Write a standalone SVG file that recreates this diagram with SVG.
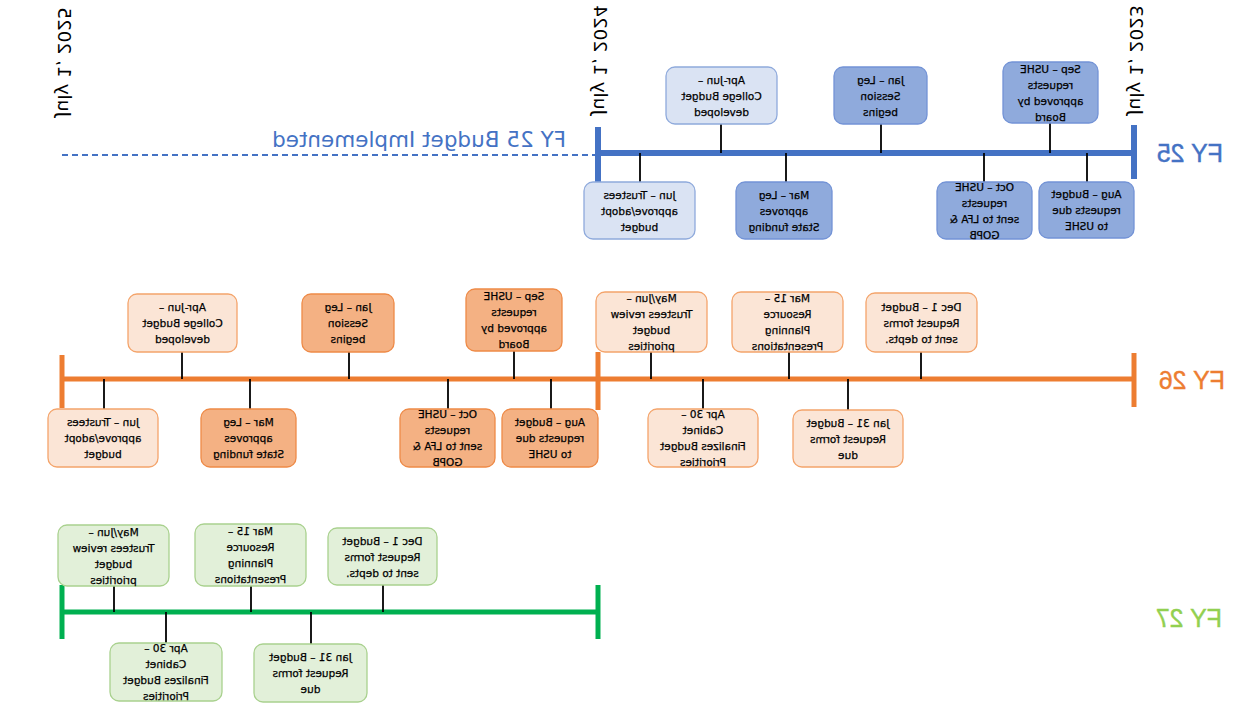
<svg xmlns="http://www.w3.org/2000/svg" width="1250" height="703" viewBox="0 0 1250 703">
<style>
.t{font-family:"DejaVu Sans",sans-serif;font-size:10.5px;fill:#000;stroke:#000;stroke-width:0.25;text-anchor:middle}
.lb{fill:#DAE3F3;stroke:#8FAADC;stroke-width:1.3}
.mb{fill:#8FAADC;stroke:#7393D6;stroke-width:1.3}
.lo{fill:#FBE5D6;stroke:#F4A46B;stroke-width:1.3}
.mo{fill:#F4B183;stroke:#EE8A47;stroke-width:1.3}
.lg{fill:#E2F0D9;stroke:#A9D18E;stroke-width:1.3}
.c{stroke:#000;stroke-width:1.8}
.date{font-family:"DejaVu Sans",sans-serif;font-size:18.5px;fill:#000}
.fy{font-family:"Liberation Sans",sans-serif;font-size:25px;stroke-width:0.4}
</style>
<g transform="matrix(-1 0 0 1 1250 0)">
<g id="axes">
<line x1="652" y1="155" x2="1188" y2="155" stroke="#4472C4" stroke-width="2" stroke-dasharray="6 4"/>
<line x1="115" y1="153" x2="652" y2="153" stroke="#4472C4" stroke-width="6"/>
<line x1="116" y1="125" x2="116" y2="179" stroke="#4472C4" stroke-width="6"/>
<line x1="652" y1="127" x2="652" y2="182" stroke="#4472C4" stroke-width="6"/>
<line x1="115" y1="379" x2="1188" y2="379" stroke="#ED7D31" stroke-width="5"/>
<line x1="116" y1="353" x2="116" y2="407" stroke="#ED7D31" stroke-width="5"/>
<line x1="652" y1="352" x2="652" y2="410" stroke="#ED7D31" stroke-width="5"/>
<line x1="1188" y1="355" x2="1188" y2="408" stroke="#ED7D31" stroke-width="5"/>
<line x1="652" y1="612" x2="1188" y2="612" stroke="#00B050" stroke-width="5"/>
<line x1="652" y1="585" x2="652" y2="639" stroke="#00B050" stroke-width="5"/>
<line x1="1188" y1="585" x2="1188" y2="639" stroke="#00B050" stroke-width="5"/>
</g>
<g id="labels">
<text class="date" transform="translate(1192,117) rotate(-90)">July 1, 2025</text>
<text class="date" transform="translate(656,115) rotate(-90)">July 1, 2024</text>
<text class="date" transform="translate(120,115) rotate(-90)">July 1, 2023</text>
<text x="684" y="147" font-family="DejaVu Sans,sans-serif" font-size="21.5" fill="#4472C4">FY 25 Budget Implemented</text>
<text class="fy" x="27" y="162" fill="#4472C4" stroke="#4472C4">FY 25</text>
<text class="fy" x="25" y="389" fill="#ED7D31" stroke="#ED7D31">FY 26</text>
<text class="fy" x="28" y="627" fill="#92D050" stroke="#92D050">FY 27</text>
</g>
<g id="connectors">
<line class="c" x1="529" y1="124" x2="529" y2="153"/>
<line class="c" x1="369" y1="124" x2="369" y2="153"/>
<line class="c" x1="200" y1="123" x2="200" y2="153"/>
<line class="c" x1="610" y1="153" x2="610" y2="182"/>
<line class="c" x1="464" y1="153" x2="464" y2="182"/>
<line class="c" x1="266" y1="153" x2="266" y2="182"/>
<line class="c" x1="163" y1="153" x2="163" y2="182"/>
<line class="c" x1="1068" y1="352" x2="1068" y2="379"/>
<line class="c" x1="901" y1="352" x2="901" y2="379"/>
<line class="c" x1="736" y1="351" x2="736" y2="379"/>
<line class="c" x1="599" y1="352" x2="599" y2="379"/>
<line class="c" x1="461" y1="352" x2="461" y2="379"/>
<line class="c" x1="329" y1="352" x2="329" y2="379"/>
<line class="c" x1="1146" y1="379" x2="1146" y2="409"/>
<line class="c" x1="1000" y1="379" x2="1000" y2="409"/>
<line class="c" x1="802" y1="379" x2="802" y2="409"/>
<line class="c" x1="699" y1="379" x2="699" y2="409"/>
<line class="c" x1="547" y1="379" x2="547" y2="409"/>
<line class="c" x1="402" y1="379" x2="402" y2="410"/>
<line class="c" x1="1136" y1="586" x2="1136" y2="612"/>
<line class="c" x1="999" y1="586" x2="999" y2="612"/>
<line class="c" x1="867" y1="585" x2="867" y2="612"/>
<line class="c" x1="1084" y1="612" x2="1084" y2="643"/>
<line class="c" x1="939" y1="612" x2="939" y2="644"/>
</g>
<g id="fy25-apr-jun"><rect class="lb" x="473" y="67" width="111" height="57" rx="9"/><text class="t"><tspan x="528.5" y="83.5">Apr-Jun –</tspan><tspan x="528.5" y="99.5">College Budget</tspan><tspan x="528.5" y="115.5">developed</tspan></text></g>
<g id="fy25-jan"><rect class="mb" x="323" y="67" width="93" height="57" rx="9"/><text class="t"><tspan x="369.5" y="83.5">Jan – Leg</tspan><tspan x="369.5" y="99.5">Session</tspan><tspan x="369.5" y="115.5">begins</tspan></text></g>
<g id="fy25-sep"><rect class="mb" x="152" y="62" width="95" height="61" rx="9"/><text class="t"><tspan x="199.5" y="72.5">Sep – USHE</tspan><tspan x="199.5" y="88.5">requests</tspan><tspan x="199.5" y="104.5">approved by</tspan><tspan x="199.5" y="120.5">Board</tspan></text></g>
<g id="fy25-jun"><rect class="lb" x="555" y="182" width="111" height="57" rx="9"/><text class="t"><tspan x="610.5" y="198.5">Jun – Trustees</tspan><tspan x="610.5" y="214.5">approve/adopt</tspan><tspan x="610.5" y="230.5">budget</tspan></text></g>
<g id="fy25-mar"><rect class="mb" x="418" y="182" width="96" height="57" rx="9"/><text class="t"><tspan x="466" y="198.5">Mar – Leg</tspan><tspan x="466" y="214.5">approves</tspan><tspan x="466" y="230.5">State funding</tspan></text></g>
<g id="fy25-oct"><rect class="mb" x="218" y="182" width="95" height="57" rx="9"/><text class="t"><tspan x="265.5" y="190.5">Oct – USHE</tspan><tspan x="265.5" y="206.5">requests</tspan><tspan x="265.5" y="222.5">sent to LFA &amp;</tspan><tspan x="265.5" y="238.5">GOPB</tspan></text></g>
<g id="fy25-aug"><rect class="mb" x="116" y="182" width="95" height="56" rx="9"/><text class="t"><tspan x="163.5" y="198">Aug – Budget</tspan><tspan x="163.5" y="214">requests due</tspan><tspan x="163.5" y="230">to USHE</tspan></text></g>
<g id="fy26-apr-jun"><rect class="lo" x="1013" y="294" width="109" height="58" rx="9"/><text class="t"><tspan x="1067.5" y="311">Apr-Jun –</tspan><tspan x="1067.5" y="327">College Budget</tspan><tspan x="1067.5" y="343">developed</tspan></text></g>
<g id="fy26-jan"><rect class="mo" x="856" y="294" width="92" height="58" rx="9"/><text class="t"><tspan x="902" y="311">Jan – Leg</tspan><tspan x="902" y="327">Session</tspan><tspan x="902" y="343">begins</tspan></text></g>
<g id="fy26-sep"><rect class="mo" x="688" y="289" width="96" height="62" rx="9"/><text class="t"><tspan x="736" y="300">Sep – USHE</tspan><tspan x="736" y="316">requests</tspan><tspan x="736" y="332">approved by</tspan><tspan x="736" y="348">Board</tspan></text></g>
<g id="fy26-may"><rect class="lo" x="543" y="292" width="111" height="60" rx="9"/><text class="t"><tspan x="598.5" y="302">May/Jun –</tspan><tspan x="598.5" y="318">Trustees review</tspan><tspan x="598.5" y="334">budget</tspan><tspan x="598.5" y="350">priorities</tspan></text></g>
<g id="fy26-mar15"><rect class="lo" x="407" y="292" width="111" height="60" rx="9"/><text class="t"><tspan x="462.5" y="302">Mar 15 –</tspan><tspan x="462.5" y="318">Resource</tspan><tspan x="462.5" y="334">Planning</tspan><tspan x="462.5" y="350">Presentations</tspan></text></g>
<g id="fy26-dec"><rect class="lo" x="273" y="293" width="111" height="59" rx="9"/><text class="t"><tspan x="328.5" y="310.5">Dec 1 – Budget</tspan><tspan x="328.5" y="326.5">Request forms</tspan><tspan x="328.5" y="342.5">sent to depts.</tspan></text></g>
<g id="fy26-jun"><rect class="lo" x="1092" y="409" width="110" height="58" rx="9"/><text class="t"><tspan x="1147" y="426">Jun – Trustees</tspan><tspan x="1147" y="442">approve/adopt</tspan><tspan x="1147" y="458">budget</tspan></text></g>
<g id="fy26-mar"><rect class="mo" x="954" y="409" width="95" height="58" rx="9"/><text class="t"><tspan x="1001.5" y="426">Mar – Leg</tspan><tspan x="1001.5" y="442">approves</tspan><tspan x="1001.5" y="458">State funding</tspan></text></g>
<g id="fy26-oct"><rect class="mo" x="755" y="409" width="95" height="58" rx="9"/><text class="t"><tspan x="802.5" y="418">Oct – USHE</tspan><tspan x="802.5" y="434">requests</tspan><tspan x="802.5" y="450">sent to LFA &amp;</tspan><tspan x="802.5" y="466">GOPB</tspan></text></g>
<g id="fy26-aug"><rect class="mo" x="652" y="409" width="96" height="58" rx="9"/><text class="t"><tspan x="700" y="426">Aug – Budget</tspan><tspan x="700" y="442">requests due</tspan><tspan x="700" y="458">to USHE</tspan></text></g>
<g id="fy26-apr30"><rect class="lo" x="492" y="409" width="110" height="58" rx="9"/><text class="t"><tspan x="547" y="418">Apr 30 –</tspan><tspan x="547" y="434">Cabinet</tspan><tspan x="547" y="450">Finalizes Budget</tspan><tspan x="547" y="466">Priorities</tspan></text></g>
<g id="fy26-jan31"><rect class="lo" x="347" y="410" width="110" height="57" rx="9"/><text class="t"><tspan x="402" y="426.5">Jan 31 – Budget</tspan><tspan x="402" y="442.5">Request forms</tspan><tspan x="402" y="458.5">due</tspan></text></g>
<g id="fy27-may"><rect class="lg" x="1081" y="525" width="111" height="61" rx="9"/><text class="t"><tspan x="1136.5" y="535.5">May/Jun –</tspan><tspan x="1136.5" y="551.5">Trustees review</tspan><tspan x="1136.5" y="567.5">budget</tspan><tspan x="1136.5" y="583.5">priorities</tspan></text></g>
<g id="fy27-mar15"><rect class="lg" x="944" y="524" width="111" height="62" rx="9"/><text class="t"><tspan x="999.5" y="535">Mar 15 –</tspan><tspan x="999.5" y="551">Resource</tspan><tspan x="999.5" y="567">Planning</tspan><tspan x="999.5" y="583">Presentations</tspan></text></g>
<g id="fy27-dec"><rect class="lg" x="813" y="528" width="109" height="57" rx="9"/><text class="t"><tspan x="867.5" y="544.5">Dec 1 – Budget</tspan><tspan x="867.5" y="560.5">Request forms</tspan><tspan x="867.5" y="576.5">sent to depts.</tspan></text></g>
<g id="fy27-apr30"><rect class="lg" x="1028" y="643" width="112" height="58" rx="9"/><text class="t"><tspan x="1084" y="652">Apr 30 –</tspan><tspan x="1084" y="668">Cabinet</tspan><tspan x="1084" y="684">Finalizes Budget</tspan><tspan x="1084" y="700">Priorities</tspan></text></g>
<g id="fy27-jan31"><rect class="lg" x="883" y="644" width="113" height="58" rx="9"/><text class="t"><tspan x="939.5" y="661">Jan 31 – Budget</tspan><tspan x="939.5" y="677">Request forms</tspan><tspan x="939.5" y="693">due</tspan></text></g>
</g>
</svg>
